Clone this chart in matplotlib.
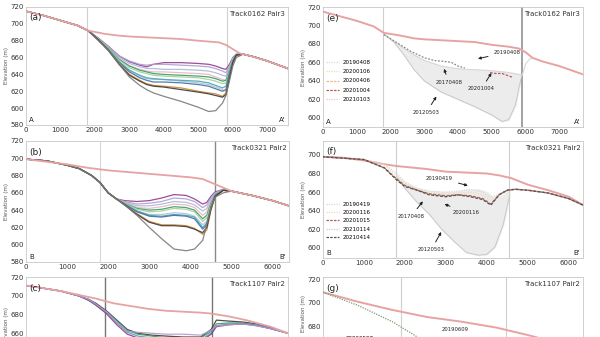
import matplotlib
matplotlib.use('Agg')
import matplotlib.pyplot as plt

# ---------------- data ----------------
# panel (a)  Track0162 Pair3
a_pink_x = [0, 500, 1000, 1500, 1800, 2300, 2700, 3000, 3500, 4000, 4500, 5000, 5300, 5600, 5800, 6000, 6200, 6500, 7000, 7600]
a_pink_y = [715, 710, 704, 698, 692, 688, 686, 685, 684, 683, 682, 680, 679, 678, 675, 670, 665, 662, 656, 647]
a_left_x = [0, 500, 1000, 1500, 1800]
a_left_y = [715, 710, 704, 698, 692]
a_mid_x = [2100, 2400, 2700, 3000, 3300, 3500, 3700, 4000, 4500, 5000, 5300, 5500, 5700, 5800, 5900, 6000, 6100]
a_right_x = [6300, 6600, 7000, 7600]
a_right_y = [664, 661, 656, 647]
a_profiles = [
    [683, 673, 662, 655, 651, 649, 652, 654, 654, 653, 652, 650, 647, 646, 652, 660, 664],
    [683, 673, 662, 656, 652, 651, 652, 652, 651, 650, 649, 647, 644, 642, 650, 659, 664],
    [682, 672, 660, 653, 649, 647, 647, 646, 646, 645, 644, 642, 639, 638, 648, 658, 664],
    [682, 671, 658, 650, 646, 644, 643, 643, 642, 641, 640, 637, 634, 633, 646, 658, 663],
    [682, 671, 658, 650, 645, 643, 641, 640, 639, 638, 637, 635, 632, 633, 645, 657, 663],
    [682, 671, 657, 648, 643, 641, 639, 638, 637, 636, 634, 632, 629, 630, 644, 657, 663],
    [681, 669, 655, 645, 638, 635, 634, 634, 632, 630, 628, 625, 622, 620, 638, 655, 663],
    [681, 669, 655, 645, 639, 636, 635, 634, 633, 632, 630, 627, 624, 626, 642, 656, 663],
    [681, 669, 654, 643, 636, 633, 631, 631, 630, 628, 626, 623, 620, 622, 640, 655, 663],
    [681, 668, 653, 640, 633, 629, 627, 626, 624, 620, 618, 617, 614, 618, 636, 654, 663],
    [681, 668, 652, 639, 632, 628, 626, 625, 622, 619, 617, 615, 613, 616, 635, 654, 663],
    [680, 668, 652, 637, 627, 622, 618, 614, 608, 601, 596, 597, 606, 615, 632, 650, 660],
]

# panel (b)  Track0321 Pair2
b_pink_x = [0, 500, 1000, 1500, 2000, 2500, 3000, 3500, 4000, 4300, 4600, 4800, 5000, 5500, 6000, 6400]
b_pink_y = [699, 696, 693, 689, 686, 684, 682, 680, 678, 676, 670, 666, 662, 657, 651, 645]
b_left_x = [0, 500, 1000, 1300, 1600, 1800, 2000, 2200]
b_left_y = [699, 697, 692, 688, 680, 672, 660, 653]
b_mid_x = [2400, 2700, 3000, 3300, 3600, 3900, 4100, 4300, 4400, 4500, 4600, 4800]
b_right_x = [5000, 5500, 6000, 6400]
b_right_y = [662, 657, 651, 645]
b_profiles = [
    [651, 650, 651, 654, 658, 657, 653, 647, 649, 656, 661, 664],
    [650, 647, 648, 650, 654, 653, 650, 643, 646, 654, 660, 664],
    [649, 645, 645, 647, 650, 649, 646, 639, 642, 652, 659, 663],
    [648, 643, 642, 644, 647, 646, 643, 634, 638, 650, 658, 663],
    [648, 642, 640, 641, 644, 643, 640, 630, 634, 648, 658, 663],
    [648, 641, 638, 639, 642, 641, 638, 627, 631, 646, 657, 663],
    [647, 639, 635, 635, 637, 636, 633, 623, 627, 645, 657, 663],
    [647, 639, 634, 633, 635, 634, 632, 620, 625, 644, 657, 663],
    [647, 638, 633, 632, 634, 633, 630, 618, 623, 643, 656, 663],
    [646, 636, 627, 623, 623, 622, 619, 612, 617, 640, 655, 663],
    [646, 635, 626, 622, 622, 621, 618, 614, 620, 641, 656, 663],
    [646, 634, 620, 607, 595, 593, 595, 605, 624, 643, 655, 660],
]

# panel (c)  Track1107 Pair2 (cut off by the crop)
c_pink_x = [0, 1000, 1500, 2000, 2500, 3000, 3500, 4000, 4500, 5000, 5300, 5800, 6300, 7000, 7500]
c_pink_y = [711, 705, 701, 697, 692, 689, 686, 684, 683, 682, 681, 678, 674, 667, 660]
c_x = [0, 500, 1000, 1500, 1800, 2000, 2300, 2600, 2900, 3200, 3600, 4000, 4500, 5000, 5300, 5450, 5800, 6200, 6600, 7000, 7500]
c_profiles = [
    [711, 708, 705, 700, 696, 692, 684, 674, 664, 660, 658, 657, 656, 656, 664, 674, 673, 672, 670, 666, 660],
    [711, 708, 705, 700, 696, 691, 683, 673, 663, 659, 657, 655, 654, 655, 662, 670, 671, 671, 669, 665, 660],
    [711, 708, 705, 700, 695, 690, 682, 671, 661, 657, 655, 653, 652, 653, 660, 668, 670, 670, 669, 665, 660],
    [711, 708, 705, 700, 695, 690, 681, 669, 659, 655, 653, 651, 650, 651, 659, 667, 669, 670, 668, 665, 660],
    [711, 708, 705, 700, 696, 691, 683, 672, 662, 661, 660, 659, 659, 658, 663, 668, 669, 670, 668, 665, 660],
]

# panel (e)
e_pink_x = [0, 500, 1000, 1500, 1800, 2300, 2700, 3000, 3500, 4000, 4500, 5000, 5500, 5800, 6000, 6200, 6500, 7000, 7700]
e_pink_y = [715, 710, 705, 699, 692, 689, 686, 685, 684, 683, 682, 679, 677, 675, 671, 665, 661, 656, 647]
e_fill_x = [1800, 2100, 2400, 2700, 3000, 3500, 4000, 4500, 5000, 5300, 5500, 5700, 5800, 5900]
e_fill_low = [691, 682, 668, 652, 640, 628, 620, 612, 603, 596, 598, 614, 632, 648]
e_fill_up = [691, 683, 675, 668, 662, 656, 653, 652, 651, 650, 649, 648, 647, 648]
e_upper_x = [1800, 2100, 2400, 2700, 3000, 3500, 4000, 4500, 5000, 5500, 5800, 5900, 5950, 6000, 6100, 6200]
e_upper_y = [691, 683, 675, 668, 662, 656, 653, 652, 651, 649, 647, 646, 652, 658, 663, 665]
e_d170408_x = [1800, 2200, 2600, 3000, 3300, 3600, 3800, 4000, 4200]
e_d170408_y = [690, 681, 672, 665, 662, 661, 660, 656, 654]
e_d201004_x = [4950, 5100, 5300, 5450, 5600]
e_d201004_y = [649, 648, 648, 646, 644]
e_dates = ['20190408', '20200106', '20200406', '20201004', '20210103']

# panel (f)
f_pink_x = [0, 500, 1000, 1500, 1800, 2500, 3000, 3500, 4000, 4300, 4600, 5000, 5500, 6000, 6350]
f_pink_y = [698, 697, 694, 690, 688, 685, 682, 681, 680, 678, 675, 668, 662, 655, 646]
f_x = [0, 1000, 1500, 1800, 2000, 2300, 2600, 3000, 3300, 3600, 3900, 4100, 4300, 4500, 4700, 5000, 5500, 6000, 6350]
f_d210414 = [698, 695, 686, 673, 666, 662, 657, 655, 657, 655, 652, 646, 657, 662, 663, 662, 659, 653, 646]
f_d201015 = [698, 695, 686, 674, 667, 662, 658, 656, 657, 656, 653, 647, 657, 662, 663, 662, 659, 653, 646]
f_d190419 = [698, 695, 690, 680, 671, 664, 661, 660, 661, 663, 660, 654, 658, 662, 663, 662, 659, 653, 646]
f_d200116 = [698, 695, 689, 677, 669, 663, 659, 658, 659, 660, 657, 651, 657, 662, 663, 662, 659, 653, 646]
f_fill_x = [1800, 2000, 2300, 2600, 2900, 3200, 3500, 3800, 4000, 4200, 4400, 4500, 4550]
f_fill_low = [676, 664, 649, 636, 620, 607, 595, 592, 593, 601, 625, 645, 655]
f_fill_up = [678, 670, 664, 661, 660, 660, 662, 663, 660, 653, 657, 661, 662]
f_dates = ['20190419', '20200116', '20201015', '20210114', '20210414']

# panel (g) (cut off by the crop)
g_pink_x = [0, 1000, 2000, 3000, 4000, 5000, 6000, 7000, 7500]
g_pink_y = [709, 701, 694, 688, 684, 679, 672, 664, 658]
g_green_x = [0, 1000, 2000, 2500, 3000]
g_green_y = [709, 698, 684, 675, 666]
g_dates = ['20200527']

line_colors = ['#8e3b8f', '#b39ad0', '#a9b9d9', '#e7b6c6', '#3d9a5c', '#9fd09f',
               '#b3c2d3', '#4aa3b3', '#3b6fa6', '#d4842c', '#3a3a3a', '#7a7a7a']
pink = '#e7a3a3'

# ---------------- figure ----------------
fig = plt.figure(figsize=(6, 3.37), dpi=100)


def px_axes(l, t, w, h):
    return fig.add_axes([l / 600, 1 - (t + h) / 337, w / 600, h / 337])


def style(ax, xlim, ylim, yticks, xticks, track, label, ends=None, xlabels=True):
    ax.set_xlim(*xlim)
    ax.set_ylim(*ylim)
    ax.set_yticks(yticks)
    ax.set_xticks(xticks)
    ax.tick_params(length=0, labelsize=5, colors='#333333', pad=1.5)
    if not xlabels:
        ax.tick_params(axis='x', labelbottom=False)
    for s in ax.spines.values():
        s.set_color('#c8c8c8')
        s.set_linewidth(0.6)
    ax.text(0.99, 0.965, track, transform=ax.transAxes, ha='right', va='top',
            fontsize=5, color='#333333')
    ax.text(0.012, 0.945, label, transform=ax.transAxes, ha='left', va='top',
            fontsize=6.5, color='#222222')
    if ends:
        ax.text(0.012, 0.02, ends[0], transform=ax.transAxes, ha='left', va='bottom',
                fontsize=5, color='#222222')
        ax.text(0.99, 0.02, ends[1], transform=ax.transAxes, ha='right', va='bottom',
                fontsize=5, color='#222222')


def ylab(ax, y=0.5):
    ax.set_ylabel('Elevation (m)', fontsize=4, color='#555555', labelpad=1)
    ax.yaxis.set_label_coords(-0.065, y)


def note(ax, txt, tx, ty, px, py):
    ax.annotate(txt, xy=(px, py), xytext=(tx, ty), fontsize=3.8, color='#222222',
                ha='center', va='center',
                arrowprops=dict(arrowstyle='-|>', color='#222222', lw=0.7,
                                mutation_scale=4, shrinkA=2, shrinkB=0))


# (a)
ax = px_axes(26, 7, 262, 118)
ax.axvline(1780, color='#d0d0d0', lw=0.8)
ax.axvline(5820, color='#d0d0d0', lw=0.8)
ax.plot(a_pink_x, a_pink_y, color=pink, lw=1.3, zorder=3)
for prof, col in zip(a_profiles, line_colors):
    ax.plot(a_left_x + a_mid_x + a_right_x, a_left_y + prof + a_right_y,
            color=col, lw=0.9, alpha=0.9)
style(ax, (0, 7600), (580, 720), range(580, 721, 20), range(0, 7001, 1000),
      'Track0162 Pair3', '(a)', ('A', "A'"))
ylab(ax)

# (b)
ax = px_axes(26, 141, 263, 121)
ax.axvline(1796, color='#d8d8d8', lw=0.8)
ax.axvline(4590, color='#8a8a8a', lw=1.0)
ax.plot(b_pink_x, b_pink_y, color=pink, lw=1.3, zorder=3)
for prof, col in zip(b_profiles, line_colors):
    ax.plot(b_left_x + b_mid_x + b_right_x, b_left_y + prof + b_right_y,
            color=col, lw=0.9, alpha=0.9)
style(ax, (0, 6400), (580, 720), range(580, 721, 20), range(0, 6001, 1000),
      'Track0321 Pair2', '(b)', ('B', "B'"))
ylab(ax)

# (c)
ax = px_axes(26, 277, 262, 120)
ax.axvline(2262, color='#777777', lw=1.0)
ax.axvline(5316, color='#777777', lw=1.0)
ax.plot(c_pink_x, c_pink_y, color=pink, lw=1.3, zorder=3)
for prof, col in zip(c_profiles, ['#3a3a3a', '#3d9a5c', '#4aa3b3', '#8e3b8f', '#b39ad0']):
    ax.plot(c_x, prof, color=col, lw=0.9, alpha=0.9)
style(ax, (0, 7500), (592, 720), [660, 680, 700, 720], range(0, 7001, 1000),
      'Track1107 Pair2', '(c)', xlabels=False)
ylab(ax, 0.6)

# (e)
ax = px_axes(323, 7, 260, 120)
ax.axvline(1777, color='#cfcfcf', lw=0.8)
ax.axvline(5906, color='#9a9a9a', lw=1.3)
ax.fill_between(e_fill_x, e_fill_low, e_fill_up, color='#ececec', zorder=1)
ax.plot(e_fill_x, e_fill_low, color='#c4c4c4', lw=0.6, zorder=2)
ax.plot(e_upper_x, e_upper_y, color='#d8d8d8', lw=0.8, zorder=2)
ax.plot(e_pink_x, e_pink_y, color=pink, lw=1.4, zorder=3)
ax.plot(e_d170408_x, e_d170408_y, color='#8a8a8a', lw=0.9, ls=(0, (1.5, 1.2)), zorder=4)
ax.plot(e_d201004_x, e_d201004_y, color='#b35a5a', lw=0.9, ls=(0, (2, 1.2)), zorder=4)
e_styles = [('#d9d9d9', (0, (1, 1))), ('#ecdcb8', (0, (1, 1))), ('#e8b890', (0, (2, 1))),
            ('#b35a5a', (0, (2, 1))), ('#efc3c8', (0, (1, 1)))]
handles = [ax.plot([], [], color=c, ls=s, lw=0.9)[0] for c, s in e_styles]
ax.legend(handles, e_dates, loc='upper left', bbox_to_anchor=(0.0, 0.585), frameon=False,
          fontsize=4, handlelength=2.2, labelspacing=0.75, borderaxespad=0.2)
note(ax, '20190408', 5450, 671, 4590, 664)
note(ax, '20170408', 3725, 638.5, 3585, 653)
note(ax, '20201004', 4690, 631.5, 4990, 648.5)
note(ax, '20120503', 3063, 606, 3358, 623)
style(ax, (0, 7700), (590, 720), range(600, 721, 20), range(0, 7001, 1000),
      'Track0162 Pair3', '(e)', ('A', "A'"))
ylab(ax)

# (f)
ax = px_axes(323, 141, 260, 117)
ax.axvline(1790, color='#cfcfcf', lw=0.8)
ax.axvline(4540, color='#cfcfcf', lw=0.8)
ax.fill_between(f_fill_x, f_fill_low, f_fill_up, color='#ececec', zorder=1)
ax.plot(f_fill_x, f_fill_low, color='#c4c4c4', lw=0.6, zorder=2)
ax.plot(f_pink_x, f_pink_y, color=pink, lw=1.4, zorder=3)
ax.plot(f_x, f_d190419, color='#d9d9d9', lw=0.9, ls=(0, (1, 1)), zorder=4)
ax.plot(f_x, f_d200116, color='#ecdcb8', lw=0.9, ls=(0, (1, 1)), zorder=4)
ax.plot(f_x, f_d201015, color='#b35a5a', lw=1.0, ls=(0, (2, 1.2)), zorder=4)
ax.plot(f_x, f_d210414, color='#555555', lw=1.0, ls=(1, (2, 1.2)), zorder=5)
f_styles = [('#d9d9d9', (0, (1, 1))), ('#ecdcb8', (0, (1, 1))), ('#b35a5a', (0, (2, 1))),
            ('#b9d6b0', (0, (1, 1))), ('#555555', (0, (2, 1)))]
handles = [ax.plot([], [], color=c, ls=s, lw=0.9)[0] for c, s in f_styles]
ax.legend(handles, f_dates, loc='upper left', bbox_to_anchor=(0.0, 0.51), frameon=False,
          fontsize=4, handlelength=2.2, labelspacing=0.6, borderaxespad=0.2)
note(ax, '20190419', 2846, 675, 3537, 667)
note(ax, '20170408', 2156, 634, 2439, 650)
note(ax, '20200116', 3498, 638, 2968, 647)
note(ax, '20120503', 2644, 598, 2888, 617)
style(ax, (0, 6350), (589, 715), range(600, 701, 20), range(0, 6001, 1000),
      'Track0321 Pair2', '(f)', ('B', "B'"))
ylab(ax)

# (g)
ax = px_axes(323, 277, 260, 120)
ax.axvline(2250, color='#cfcfcf', lw=0.8)
ax.axvline(5280, color='#cfcfcf', lw=0.8)
ax.plot(g_pink_x, g_pink_y, color=pink, lw=1.4, zorder=3)
ax.plot(g_green_x, g_green_y, color='#7a9a70', lw=0.9, ls=(0, (1, 1)), zorder=4)
ax.annotate('20190609', xy=(3813, 655), xytext=(3813, 677), fontsize=3.8, color='#222222',
            ha='center', va='center',
            arrowprops=dict(arrowstyle='-|>', color='#222222', lw=0.7, mutation_scale=4))
handles = [ax.plot([], [], color='#d9d9d9', ls=(0, (1, 1)), lw=0.9)[0] for _ in g_dates]
ax.legend(handles, g_dates, loc='upper left', bbox_to_anchor=(0.01, 0.54), frameon=False,
          fontsize=4, handlelength=2.2, borderaxespad=0.2)
style(ax, (0, 7500), (620, 722), [680, 700, 720], range(0, 7001, 1000),
      'Track1107 Pair2', '(g)', xlabels=False)
ylab(ax, 0.7)

fig.savefig('out.png', dpi=100)
